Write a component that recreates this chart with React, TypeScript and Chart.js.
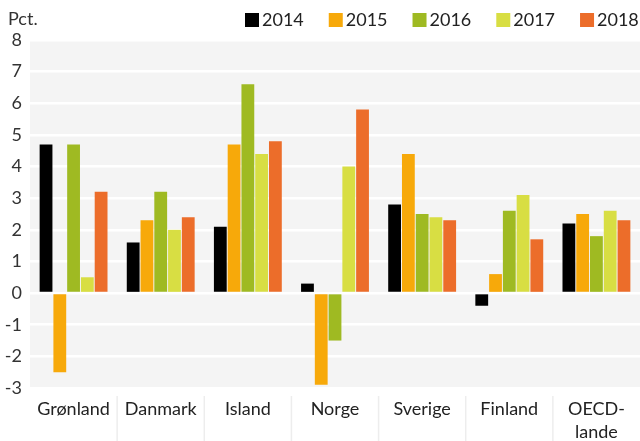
import React, { useEffect, useRef } from "react";
import { Chart, registerables } from "chart.js";

Chart.register(...registerables);

const categories: (string | string[])[] = ["Grønland", "Danmark", "Island", "Norge", "Sverige", "Finland", ["OECD-", "lande"]];
const years = ["2014", "2015", "2016", "2017", "2018"];
const v2014 = [4.7, 1.6, 2.1, 0.3, 2.8, -0.4, 2.2];
const v2015 = [-2.5, 2.3, 4.7, -2.9, 4.4, 0.6, 2.5];
const v2016 = [4.7, 3.2, 6.6, -1.5, 2.5, 2.6, 1.8];
const v2017 = [0.5, 2.0, 4.4, 4.0, 2.4, 3.1, 2.6];
const v2018 = [3.2, 2.4, 4.8, 5.8, 2.3, 1.7, 2.3];
const colors = ["#000000", "#F7A90A", "#9FBA22", "#D8DE43", "#EC6D2A"];
const yTicks = [-3, -2, -1, 0, 1, 2, 3, 4, 5, 6, 7, 8];
const unitLabel = "Pct.";

const FONT = "Lato, 'Open Sans', sans-serif";
const FS = 18;

const decor = {
  id: "decor",
  beforeDraw(chart: any) {
    const { ctx, chartArea } = chart;
    ctx.save();
    ctx.fillStyle = "#F4F4F4";
    ctx.fillRect(chartArea.left, chartArea.top, chartArea.right - chartArea.left, chartArea.bottom - chartArea.top);
    ctx.restore();
  },
  afterDraw(chart: any) {
    const { ctx, chartArea } = chart;
    const xs = chart.scales.x;
    ctx.save();
    // category separators below the axis
    ctx.strokeStyle = "#EDEDED";
    ctx.lineWidth = 1.5;
    const n = chart.data.labels.length;
    for (let i = 1; i < n; i++) {
      const x = (xs.getPixelForValue(i - 1) + xs.getPixelForValue(i)) / 2;
      ctx.beginPath();
      ctx.moveTo(x, chartArea.bottom + 8);
      ctx.lineTo(x, chart.height);
      ctx.stroke();
    }
    // unit label
    ctx.font = `${FS}px ${FONT}`;
    ctx.fillStyle = "#333333";
    ctx.textBaseline = "middle";
    ctx.textAlign = "left";
    ctx.fillText(unitLabel, 8, 19);
    // legend
    let x = 245;
    chart.data.datasets.forEach((ds: any) => {
      ctx.fillStyle = ds.backgroundColor;
      ctx.fillRect(x, 13, 14, 14);
      ctx.fillStyle = "#222222";
      ctx.fillText(ds.label, x + 17, 20);
      x += 14 + 3 + ctx.measureText(ds.label).width + 25;
    });
    ctx.restore();
  },
};

export default function App() {
  const ref = useRef<HTMLCanvasElement | null>(null);
  useEffect(() => {
    document.body.style.margin = "0";
    const series = [v2014, v2015, v2016, v2017, v2018];
    const chart = new Chart(ref.current!, {
      type: "bar",
      data: {
        labels: categories,
        datasets: years.map((y, i) => ({
          label: y,
          data: series[i],
          backgroundColor: colors[i],
          borderWidth: 0,
          barPercentage: 0.93,
          categoryPercentage: 0.79,
        })),
      },
      options: {
        animation: false,
        responsive: true,
        maintainAspectRatio: false,
        layout: { padding: { top: 40, right: 0, left: 0, bottom: 0 } },
        plugins: { legend: { display: false }, tooltip: { enabled: false } },
        scales: {
          x: {
            grid: { display: false, drawTicks: false },
            border: { display: false },
            ticks: {
              color: "#222222",
              font: { family: FONT, size: FS, lineHeight: 1.25 },
              padding: 10,
              maxRotation: 0,
              autoSkip: false,
            },
            afterFit(scale: any) {
              scale.height = 53;
            },
          },
          y: {
            min: -3,
            max: 8,
            afterBuildTicks(scale: any) {
              scale.ticks = yTicks.map((v) => ({ value: v }));
            },
            grid: { color: "#FFFFFF", lineWidth: 2.5, drawTicks: false },
            border: { display: false },
            ticks: {
              color: "#333333",
              font: { family: FONT, size: FS },
              padding: 8,
            },
            afterFit(scale: any) {
              scale.width = 30;
            },
          },
        },
      },
      plugins: [decor],
    });
    return () => chart.destroy();
  }, []);
  return (
    <div style={{ position: "absolute", left: 0, top: 0, width: 640, height: 441 }}>
      <canvas ref={ref} />
    </div>
  );
}
